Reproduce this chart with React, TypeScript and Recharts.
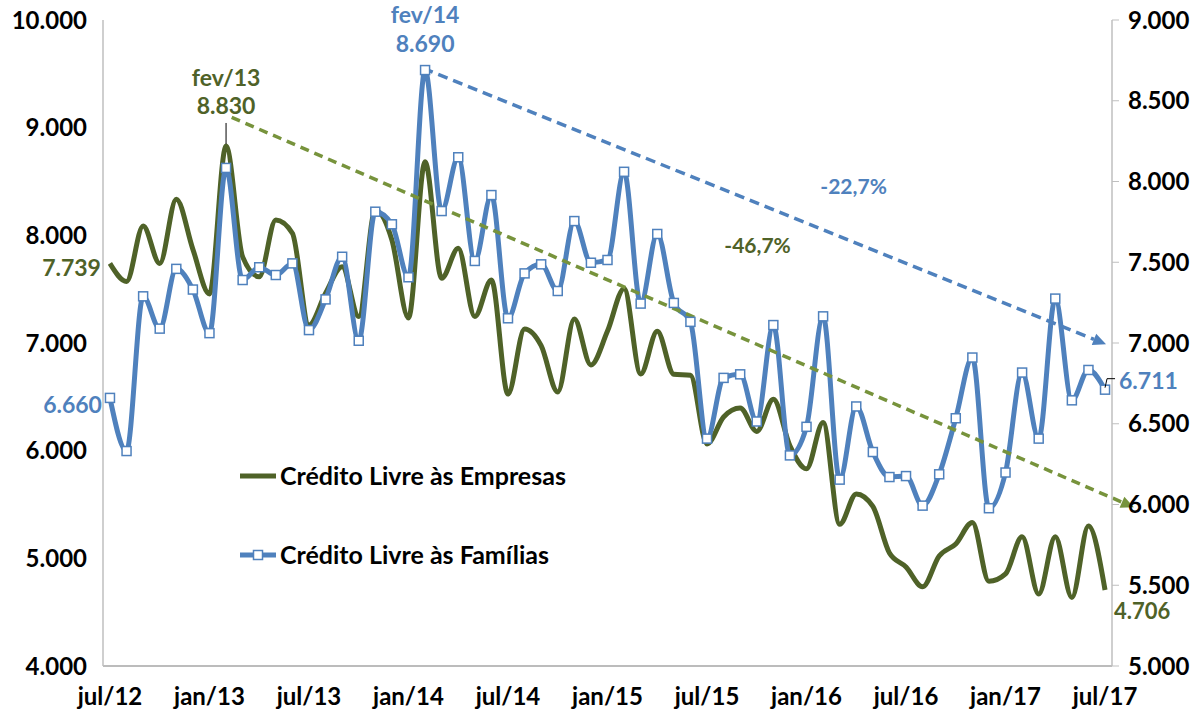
import { LineChart, Line, XAxis, YAxis, ReferenceLine, ReferenceDot, Legend } from 'recharts';

const months = [
  'jul/12', 'ago/12', 'set/12', 'out/12', 'nov/12', 'dez/12',
  'jan/13', 'fev/13', 'mar/13', 'abr/13', 'mai/13', 'jun/13', 'jul/13', 'ago/13', 'set/13', 'out/13', 'nov/13', 'dez/13',
  'jan/14', 'fev/14', 'mar/14', 'abr/14', 'mai/14', 'jun/14', 'jul/14', 'ago/14', 'set/14', 'out/14', 'nov/14', 'dez/14',
  'jan/15', 'fev/15', 'mar/15', 'abr/15', 'mai/15', 'jun/15', 'jul/15', 'ago/15', 'set/15', 'out/15', 'nov/15', 'dez/15',
  'jan/16', 'fev/16', 'mar/16', 'abr/16', 'mai/16', 'jun/16', 'jul/16', 'ago/16', 'set/16', 'out/16', 'nov/16', 'dez/16',
  'jan/17', 'fev/17', 'mar/17', 'abr/17', 'mai/17', 'jun/17', 'jul/17',
];

// Crédito Livre às Empresas (eixo esquerdo)
const empresas = [
  7739, 7572, 8087, 7738, 8335, 7870, 7456, 8830, 7800, 7616, 8142, 8019, 7167, 7462, 7709, 7245, 8235, 7957,
  7232, 8684, 7601, 7879, 7245, 7585, 6526, 7130, 6975, 6545, 7223, 6796, 7111, 7505, 6712, 7108, 6709, 6700,
  6062, 6313, 6396, 6179, 6477, 6046, 5831, 6262, 5316, 5598, 5482, 5050, 4920, 4736, 5022, 5134, 5333, 4786,
  4855, 5200, 4669, 5200, 4636, 5300, 4706,
];

// Crédito Livre às Famílias (eixo direito)
const familias = [
  6660, 6331, 7289, 7089, 7459, 7331, 7061, 8084, 7390, 7469, 7421, 7493, 7080, 7270, 7534, 7014, 7813, 7735,
  7407, 8690, 7817, 8150, 7508, 7916, 7153, 7431, 7487, 7322, 7755, 7497, 7514, 8060, 7244, 7675, 7248, 7131,
  6408, 6784, 6806, 6514, 7111, 6304, 6481, 7165, 6154, 6607, 6325, 6170, 6176, 5993, 6187, 6534, 6910, 5977,
  6198, 6817, 6408, 7275, 6645, 6833, 6711,
];

const tickLabels = ['jul/12', 'jan/13', 'jul/13', 'jan/14', 'jul/14', 'jan/15', 'jul/15', 'jan/16', 'jul/16', 'jan/17', 'jul/17'];
const leftTicks = [4000, 5000, 6000, 7000, 8000, 9000, 10000];
const rightTicks = [5000, 5500, 6000, 6500, 7000, 7500, 8000, 8500, 9000];

// tendências (início, fim) em índice de mês / valor
const trendEmpresas = [{ x: 7.34, y: 9096 }, { x: 61.74, y: 5474 }];
const trendFamilias = [{ x: 18.9, y: 8701 }, { x: 60.06, y: 6992 }];
const pctLabels = [
  { x: 39.05, y: 7901, text: '-46,7%', axis: 'left' },
  { x: 44.84, y: 7966, text: '-22,7%', axis: 'right' },
];

const GREEN = '#4F6228';
const GREEN_TREND = '#77933C';
const BLUE = '#4F81BD';
const FONT = 'Lato, "Noto Sans", sans-serif';

const data = months.map((m, i) => ({ idx: i, month: m, empresas: empresas[i], familias: familias[i] }));
const xTicks = tickLabels.map((t) => months.indexOf(t));
const peakE = empresas.indexOf(Math.max(...empresas));
const peakF = familias.indexOf(Math.max(...familias));
const last = months.length - 1;

const fmt = (n: number) => String(n).replace(/\B(?=(\d{3})+(?!\d))/g, '.');

const txt = (color: string, size = 23) => ({ fill: color, fontFamily: FONT, fontWeight: 700, fontSize: size });

const greenDot = (p: any) => {
  const { cx, cy, index, key } = p;
  if (index === 0)
    return <text key={key} x={cx - 9} y={cy + 5} dy="0.35em" textAnchor="end" {...txt(GREEN)}>{fmt(empresas[0])}</text>;
  if (index === peakE)
    return (
      <g key={key}>
        <line x1={cx} y1={cy - 23} x2={cx} y2={cy - 2} stroke="#000" strokeWidth={1} />
        <text x={cx} y={cy - 68} dy="0.35em" textAnchor="middle" {...txt(GREEN)}>{months[peakE]}</text>
        <text x={cx} y={cy - 40} dy="0.35em" textAnchor="middle" {...txt(GREEN)}>{fmt(empresas[peakE])}</text>
      </g>
    );
  if (index === last)
    return <text key={key} x={cx + 9} y={cy + 21} dy="0.35em" textAnchor="start" {...txt(GREEN, 22)}>{fmt(empresas[last])}</text>;
  return <g key={key} />;
};

const blueDot = (p: any) => {
  const { cx, cy, index, key } = p;
  const sq = <rect x={cx - 4.5} y={cy - 4.5} width={9} height={9} fill="#fff" stroke={BLUE} strokeWidth={1.5} />;
  if (index === 0)
    return (
      <g key={key}>
        {sq}
        <text x={cx - 8} y={cy + 7} dy="0.35em" textAnchor="end" {...txt(BLUE)}>{fmt(familias[0])}</text>
      </g>
    );
  if (index === peakF)
    return (
      <g key={key}>
        {sq}
        <text x={cx} y={cy - 55} dy="0.35em" textAnchor="middle" {...txt(BLUE)}>{months[peakF]}</text>
        <text x={cx} y={cy - 26} dy="0.35em" textAnchor="middle" {...txt(BLUE)}>{fmt(familias[peakF])}</text>
      </g>
    );
  if (index === last)
    return (
      <g key={key}>
        {sq}
        <polyline points={`${cx},${cy - 2} ${cx + 2},${cy - 11} ${cx + 10},${cy - 11}`} fill="none" stroke="#000" strokeWidth={1} />
        <text x={cx + 14} y={cy - 9} dy="0.35em" textAnchor="start" {...txt(BLUE)}>{fmt(familias[last])}</text>
      </g>
    );
  return <g key={key}>{sq}</g>;
};

const arrowShape = (color: string, width: number, dash: string) => (p: any) => {
  const { x1, y1, x2, y2 } = p;
  const a = Math.atan2(y2 - y1, x2 - x1);
  const L = 13;
  const W = 6;
  const bx = x2 - L * Math.cos(a);
  const by = y2 - L * Math.sin(a);
  return (
    <g>
      <line x1={x1} y1={y1} x2={bx} y2={by} stroke={color} strokeWidth={width} strokeDasharray={dash} />
      <polygon
        points={`${x2},${y2} ${bx + W * Math.sin(a)},${by - W * Math.cos(a)} ${bx - W * Math.sin(a)},${by + W * Math.cos(a)}`}
        fill={color}
      />
    </g>
  );
};

const renderLegend = () => (
  <svg width={380} height={120}>
    <line x1={2} y1={23} x2={38} y2={23} stroke={GREEN} strokeWidth={5} />
    <text x={42} y={23} dy="0.35em" {...txt('#000', 25)}>Crédito Livre às Empresas</text>
    <line x1={2} y1={102} x2={38} y2={102} stroke={BLUE} strokeWidth={5} />
    <rect x={15.5} y={97.5} width={9} height={9} fill="#fff" stroke={BLUE} strokeWidth={1.5} />
    <text x={42} y={102} dy="0.35em" {...txt('#000', 25)}>Crédito Livre às Famílias</text>
  </svg>
);

export default function App() {
  return (
    <div style={{ position: 'absolute', left: 0, top: 0 }}>
      <LineChart width={1198} height={709} data={data} margin={{ top: 20, right: 0, bottom: 0, left: 0 }}>
        <XAxis
          dataKey="idx"
          type="number"
          domain={[-0.42, 60.42]}
          ticks={xTicks}
          tickFormatter={(v) => months[v]}
          height={43}
          tickSize={0}
          tickMargin={22}
          axisLine={{ stroke: '#A6A6A6', strokeWidth: 1.5 }}
          tick={{ ...txt('#000', 24) }}
          interval={0}
        />
        <YAxis
          yAxisId="left"
          domain={[4000, 10000]}
          ticks={leftTicks}
          tickFormatter={fmt}
          width={103}
          tickSize={0}
          tickMargin={16}
          axisLine={{ stroke: '#BFBFBF', strokeWidth: 1.5 }}
          tick={{ ...txt('#000', 24) }}
          interval={0}
        />
        <YAxis
          yAxisId="right"
          orientation="right"
          domain={[5000, 9000]}
          ticks={rightTicks}
          tickFormatter={fmt}
          width={86}
          tickSize={7}
          tickMargin={9}
          axisLine={{ stroke: '#BFBFBF', strokeWidth: 1.5 }}
          tickLine={{ stroke: '#BFBFBF' }}
          tick={{ ...txt('#000', 24) }}
          interval={0}
        />
        <Legend
          layout="vertical"
          align="center"
          verticalAlign="middle"
          content={renderLegend}
          wrapperStyle={{ left: 238, top: 453, width: 380, height: 120 }}
        />
        <Line
          yAxisId="left"
          dataKey="empresas"
          type="monotone"
          stroke={GREEN}
          strokeWidth={5}
          dot={greenDot}
          activeDot={false}
          isAnimationActive={false}
        />
        <Line
          yAxisId="right"
          dataKey="familias"
          type="monotone"
          stroke={BLUE}
          strokeWidth={5}
          dot={blueDot}
          activeDot={false}
          isAnimationActive={false}
        />
        <ReferenceLine
          yAxisId="left"
          segment={trendEmpresas}
          ifOverflow="visible"
          shape={arrowShape(GREEN_TREND, 3.5, '9 6')}
        />
        <ReferenceLine
          yAxisId="right"
          segment={trendFamilias}
          ifOverflow="visible"
          shape={arrowShape(BLUE, 3.5, '10 6')}
        />
        {pctLabels.map((l) => (
          <ReferenceDot
            key={l.text}
            yAxisId={l.axis}
            x={l.x}
            y={l.y}
            ifOverflow="visible"
            shape={(p: any) => (
              <text x={p.cx} y={p.cy} dy="0.35em" textAnchor="middle" {...txt(l.axis === 'left' ? GREEN : BLUE, 21)}>
                {l.text}
              </text>
            )}
          />
        ))}
      </LineChart>
    </div>
  );
}
